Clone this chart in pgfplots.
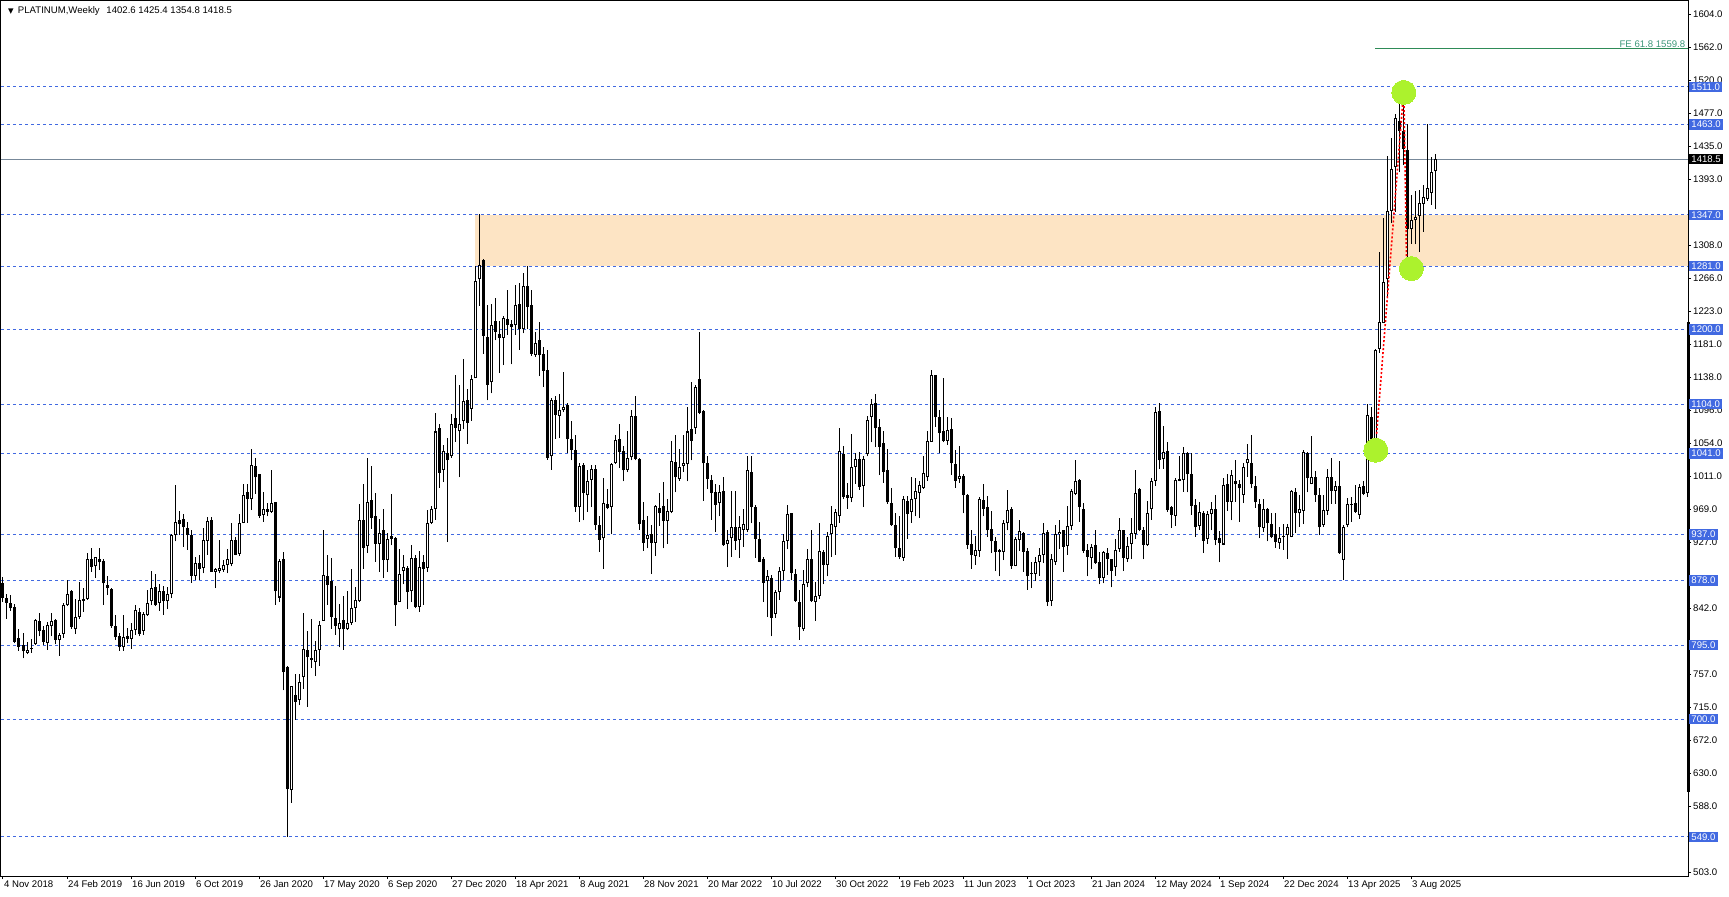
\documentclass[border=0pt]{standalone}
\usepackage{pgfplots}
\pgfplotsset{compat=1.18}
\usepackage{pgfplotstable}
\usepackage{fontspec}
\setmainfont{Liberation Sans}
\newfontfamily\symfont{DejaVu Sans}
\newcommand\mt{\fontsize{4.8pt}{5.6pt}\selectfont}

\definecolor{lvlblue}{RGB}{65,105,225}
\definecolor{zone}{RGB}{253,228,196}
\definecolor{fegreen}{RGB}{46,139,87}
\definecolor{fetext}{RGB}{60,150,120}
\definecolor{blob}{RGB}{172,242,45}
\definecolor{pricegray}{RGB}{119,136,153}

% weekly OHLC, 4 Nov 2018 .. 14 Sep 2025
\pgfplotstableread{
o h l c
875 882 850 856
856 860 829 849
849 859 839 842
844 848 797 799
804 816 788 793
795 810 778 787
785 799 783 789
790 803 785 791
796 828 795 827
826 836 806 813
814 820 795 799
798 824 789 821
819 836 806 826
827 829 796 802
802 810 781 808
809 849 804 846
846 879 845 861
864 866 816 818
815 854 809 831
831 876 828 853
852 868 838 854
854 913 853 905
905 919 889 895
896 908 881 908
905 919 891 901
903 905 847 874
872 883 859 868
867 868 817 819
819 834 802 805
807 810 788 792
792 834 788 805
807 817 797 803
803 823 790 814
814 846 808 840
838 842 806 809
813 837 808 835
833 866 832 849
851 890 846 868
870 886 845 846
849 873 839 864
864 871 834 851
851 869 841 861
861 937 855 936
936 1000 928 953
955 967 936 950
957 963 921 946
945 953 917 936
936 943 875 884
884 908 878 900
900 911 879 893
894 945 887 930
929 959 911 954
955 959 889 889
889 894 868 893
890 930 887 894
891 904 889 898
898 918 887 906
899 951 896 930
930 934 910 911
912 963 909 951
952 1002 951 988
992 1002 952 982
982 1046 968 1026
1025 1035 989 1010
1014 1014 958 961
962 991 953 969
969 977 960 966
966 1020 965 977
978 979 847 864
856 905 850 903
905 914 737 760
767 768 549 610
609 743 593 742
731 758 699 722
725 758 718 747
754 836 739 790
789 813 716 780
779 829 766 776
773 800 755 789
789 826 768 821
826 942 826 885
884 911 847 872
877 907 816 831
830 871 808 820
815 848 792 823
827 858 789 815
815 864 814 823
823 892 821 842
843 869 825 853
851 976 850 955
955 1001 893 919
922 1035 913 979
981 1025 944 958
960 990 902 925
925 957 889 939
942 970 881 904
904 939 889 931
935 989 923 931
932 933 820 846
850 918 850 886
890 910 873 895
894 897 841 863
864 923 850 907
907 910 842 844
844 916 838 895
902 910 847 893
894 968 889 952
952 974 950 969
970 1093 956 1069
1073 1078 997 1016
1020 1052 1004 1044
1041 1061 927 1032
1037 1092 1035 1079
1086 1141 1056 1074
1069 1129 1010 1079
1082 1162 1072 1108
1109 1124 1053 1080
1098 1141 1083 1136
1137 1281 1137 1262
1264 1348 1230 1283
1289 1290 1169 1192
1190 1231 1109 1129
1132 1233 1118 1206
1211 1240 1186 1197
1194 1211 1144 1189
1189 1217 1154 1215
1213 1251 1193 1206
1207 1212 1155 1203
1205 1257 1193 1231
1233 1260 1174 1201
1200 1272 1195 1256
1256 1281 1200 1229
1231 1251 1166 1169
1167 1197 1165 1182
1186 1210 1140 1167
1168 1178 1126 1147
1148 1173 1033 1035
1037 1112 1020 1109
1110 1114 1060 1090
1089 1117 1061 1097
1096 1145 1094 1100
1103 1106 1041 1059
1059 1082 1032 1045
1045 1065 966 972
972 1028 953 1025
1026 1028 955 990
987 1019 966 1005
1007 1026 972 1021
1021 1026 943 949
949 960 915 930
932 1009 893 977
976 995 969 971
972 1028 937 1027
1029 1064 1027 1058
1059 1079 1022 1043
1044 1050 1005 1019
1020 1069 1017 1035
1036 1097 1032 1089
1089 1114 1032 1034
1034 1035 943 950
956 978 916 926
931 960 919 936
937 949 886 926
926 975 909 973
971 990 948 964
973 1004 919 954
954 982 925 967
966 1057 964 1031
1030 1064 991 1010
1008 1047 1006 1023
1025 1064 1017 1028
1027 1101 1005 1069
1072 1132 1032 1057
1073 1129 1066 1126
1136 1196 1091 1093
1095 1097 980 1028
1028 1037 995 1008
1007 1013 956 990
991 1002 940 975
977 1000 960 991
993 1010 922 923
925 942 895 930
932 993 908 947
947 993 917 929
930 960 907 946
943 970 921 950
943 1037 940 1020
1017 1037 951 972
972 975 907 931
931 953 901 902
906 908 850 875
877 891 831 883
881 885 806 830
835 866 830 863
863 895 853 890
890 938 878 929
929 975 918 963
964 964 878 888
886 892 850 852
850 866 802 818
815 891 813 873
874 918 869 905
906 942 850 851
850 876 826 858
858 952 854 916
915 917 873 898
898 940 883 935
938 973 908 950
946 969 911 966
960 1073 952 1044
1040 1050 982 985
987 1003 970 984
984 1066 978 1024
1024 1041 1002 1034
1034 1043 994 998
999 1037 972 1034
1040 1089 1037 1084
1088 1111 1055 1104
1106 1117 1049 1073
1075 1085 1013 1049
1054 1069 1003 1017
1020 1046 976 978
977 996 948 949
949 964 908 919
919 960 905 908
907 986 903 983
980 986 931 963
966 1011 952 982
982 1009 960 993
990 1005 958 1000
997 1037 995 1016
1010 1070 1006 1057
1056 1148 1056 1141
1141 1141 1075 1087
1088 1096 1041 1067
1069 1137 1055 1057
1057 1088 1052 1071
1072 1086 1013 1028
1027 1045 997 1006
1008 1051 1003 1012
1012 1014 964 987
987 989 918 924
925 943 893 910
909 935 898 917
916 985 908 982
981 1002 960 970
972 986 934 942
944 967 913 928
928 934 890 915
917 918 883 915
915 955 904 951
951 994 942 968
970 972 893 896
897 934 896 931
930 955 916 941
939 940 889 915
916 920 866 883
888 902 868 886
886 908 877 902
901 919 884 910
911 951 900 939
940 943 845 850
852 912 845 905
901 949 898 938
937 955 918 940
942 943 889 921
922 973 911 948
948 995 943 993
989 1032 987 1005
1007 1008 953 972
970 977 913 916
917 925 883 908
907 925 892 921
923 943 899 900
901 915 873 881
881 916 874 914
913 920 885 906
905 906 869 890
895 931 884 917
918 958 915 942
942 943 890 907
906 934 902 922
925 958 905 939
938 1020 931 990
995 997 941 943
943 947 905 924
923 980 922 965
969 1009 956 1005
1006 1101 999 1094
1095 1105 1021 1032
1034 1076 1021 1043
1044 1055 966 968
972 973 945 962
961 1009 948 1007
1008 1037 1005 1006
1007 1049 992 1042
1042 1043 991 1014
1014 1041 962 974
975 983 934 946
948 978 943 966
965 967 913 929
931 967 925 963
963 979 942 969
969 987 923 930
932 941 901 926
924 1009 923 1000
1001 1015 967 979
979 1020 955 1013
1006 1032 979 1001
1001 1007 953 996
988 1029 977 1024
1028 1053 1011 1034
1029 1064 996 1001
999 1012 971 978
976 982 932 946
945 982 940 970
970 971 928 951
950 965 932 934
937 965 920 927
926 947 918 932
935 950 917 934
936 950 906 946
934 994 933 993
991 996 939 965
964 988 947 970
967 1045 950 1043
1041 1043 991 1009
1002 1063 1001 1010
1011 1018 979 987
987 996 936 946
949 988 947 968
967 1021 962 1011
1011 1035 976 993
993 1006 976 999
999 1031 912 913
904 949 878 947
949 984 946 976
975 985 953 976
977 1000 965 966
962 1002 957 998
999 1006 987 989
990 1104 985 1090
1087 1100 1042 1053
1052 1175 1042 1174
1175 1299 1170 1210
1208 1343 1208 1261
1264 1423 1240 1352
1352 1446 1336 1406
1408 1476 1351 1471
1467 1504 1402 1455
1454 1511 1411 1432
1430 1464 1269 1329
1329 1372 1310 1340
1340 1378 1309 1344
1345 1379 1299 1362
1361 1385 1325 1370
1367 1463 1365 1381
1375 1421 1360 1402
1402.6 1425.4 1354.8 1418.5
}\ohlc

\begin{document}
\begin{tikzpicture}
\useasboundingbox (0,0) rectangle (864.5pt,448pt);
\begin{axis}[
  at={(0.5pt,10pt)}, anchor=south west,
  scale only axis, width=843.5pt, height=437.5pt,
  xmin=-0.5, xmax=421.25, ymin=498.7, ymax=1621.3,
  axis line style={black, line width=0.5pt},
  tick style={black, line width=0.5pt},
  tick align=outside, major tick length=1.5pt,
  ytick pos=right, yticklabel pos=right, xtick pos=bottom,
  ytick={503,545.35,587.7,630,672.4,714.7,757.1,799.4,841.8,884.1,926.5,968.8,1011.2,1053.5,1095.8,1138.2,1180.5,1222.9,1265.2,1307.6,1349.9,1392.3,1434.6,1477,1519.3,1561.7,1604},
  yticklabels={503.0,,588.0,630.0,672.0,715.0,757.0,,842.0,,927.0,969.0,1011.0,1054.0,1096.0,1138.0,1181.0,1223.0,1266.0,1308.0,,1393.0,1435.0,1477.0,1520.0,1562.0,1604.0},
  xtick={0,16,...,352},
  xticklabels={4 Nov 2018,24 Feb 2019,16 Jun 2019,6 Oct 2019,26 Jan 2020,17 May 2020,6 Sep 2020,27 Dec 2020,18 Apr 2021,8 Aug 2021,28 Nov 2021,20 Mar 2022,10 Jul 2022,30 Oct 2022,19 Feb 2023,11 Jun 2023,1 Oct 2023,21 Jan 2024,12 May 2024,1 Sep 2024,22 Dec 2024,13 Apr 2025,3 Aug 2025},
  ticklabel style={font=\mt},
  yticklabel style={anchor=west, inner sep=0pt, xshift=0.9pt},
  xticklabel style={anchor=north west, inner sep=0pt, xshift=0.4pt, yshift=-0.6pt},
  /pgf/number format/assume math mode=true,
]
% support / resistance zone
\fill[zone] (axis cs:118,1281) rectangle (axis cs:421.25,1347);
% horizontal levels
\pgfplotsinvokeforeach{1511,1463,1347,1281,1200,1104,1041,937,878,795,700,549}{
  \addplot[lvlblue, line width=0.5pt, dash pattern=on 1.5pt off 1.5pt, forget plot] coordinates {(-0.5,#1) (421.25,#1)};
}
\addplot[pricegray, line width=0.5pt, forget plot] coordinates {(-0.5,1418.5) (421.25,1418.5)};
\addplot[fegreen, line width=0.5pt, forget plot] coordinates {(343,1559.8) (421.25,1559.8)};
% highlight marks
\addplot[only marks, color=blob, mark=*, mark size=6pt, mark options={draw=blob, fill=blob, line width=0pt}, forget plot]
  coordinates {(350.2,1504) (352.1,1278) (343.2,1045)};
% wicks
\addplot[draw=none, forget plot, error bars/.cd, y dir=plus, y explicit, error mark=none,
  error bar style={draw=black, line width=0.5pt}]
  table[x expr=\coordindex, y=l, y error plus expr={\thisrow{h}-\thisrow{l}}] {\ohlc};
% bodies
\addplot[draw=none, forget plot, error bars/.cd, y dir=plus, y explicit, error mark=none,
  error bar style={draw=black, line width=1.5pt}]
  table[x expr=\coordindex, y expr={min(\thisrow{o},\thisrow{c})},
        y error plus expr={max(abs(\thisrow{c}-\thisrow{o}),1.3)}] {\ohlc};
% hollow inside of rising candles
\addplot[draw=none, forget plot, error bars/.cd, y dir=plus, y explicit, error mark=none,
  error bar style={draw=white, line width=0.5pt}]
  table[x expr=\coordindex, y expr={min(\thisrow{o},\thisrow{c})+1.3},
        y error plus expr={(\thisrow{c}>\thisrow{o})*max(\thisrow{c}-\thisrow{o}-2.6,0)}] {\ohlc};
% fibo expansion
\addplot[red, line width=0.8pt, dash pattern=on 1pt off 1pt, forget plot]
  coordinates {(343.4,1066) (350.2,1509) (350.9,1283)};
\node[anchor=south east, inner sep=0.5pt, font=\mt, text=fetext] at (axis cs:420.9,1559.8) {FE 61.8 1559.8};
% anchors for the price boxes
\pgfplotsinvokeforeach{1511,1463,1347,1281,1200,1104,1041,937,878,795,700,549}{
  \coordinate (R#1) at ({rel axis cs:1,0}|-{axis cs:0,#1});
}
\coordinate (RP) at ({rel axis cs:1,0}|-{axis cs:0,1418.5});
\coordinate (Bt) at ({rel axis cs:1,0}|-{axis cs:0,1209.5});
\coordinate (Bb) at ({rel axis cs:1,0}|-{axis cs:0,606});
\end{axis}
\draw[black, line width=1.5pt] (Bt) -- (Bb);
\foreach \v in {1511,1463,1347,1281,1200,1104,1041,937,878,795,700,549}{
  \node[fill=lvlblue, text=white, anchor=west, inner xsep=1.2pt, inner ysep=0pt,
        minimum height=5.2pt, font=\mt, xshift=0.3pt] at (R\v) {\v.0};
}
\node[fill=black, text=white, anchor=west, inner xsep=1.2pt, inner ysep=0pt,
      minimum height=5.2pt, font=\mt, xshift=0.3pt] at (RP) {1418.5};
% title
\node[anchor=center, inner sep=0pt] at (5.5pt,442.3pt) {\symfont\fontsize{3.6pt}{4pt}\selectfont ▼};
\node[anchor=west, inner sep=0pt, font=\mt] at (8.8pt,442.3pt) {PLATINUM,Weekly\hspace{2pt} 1402.6 1425.4 1354.8 1418.5};
\end{tikzpicture}
\end{document}
